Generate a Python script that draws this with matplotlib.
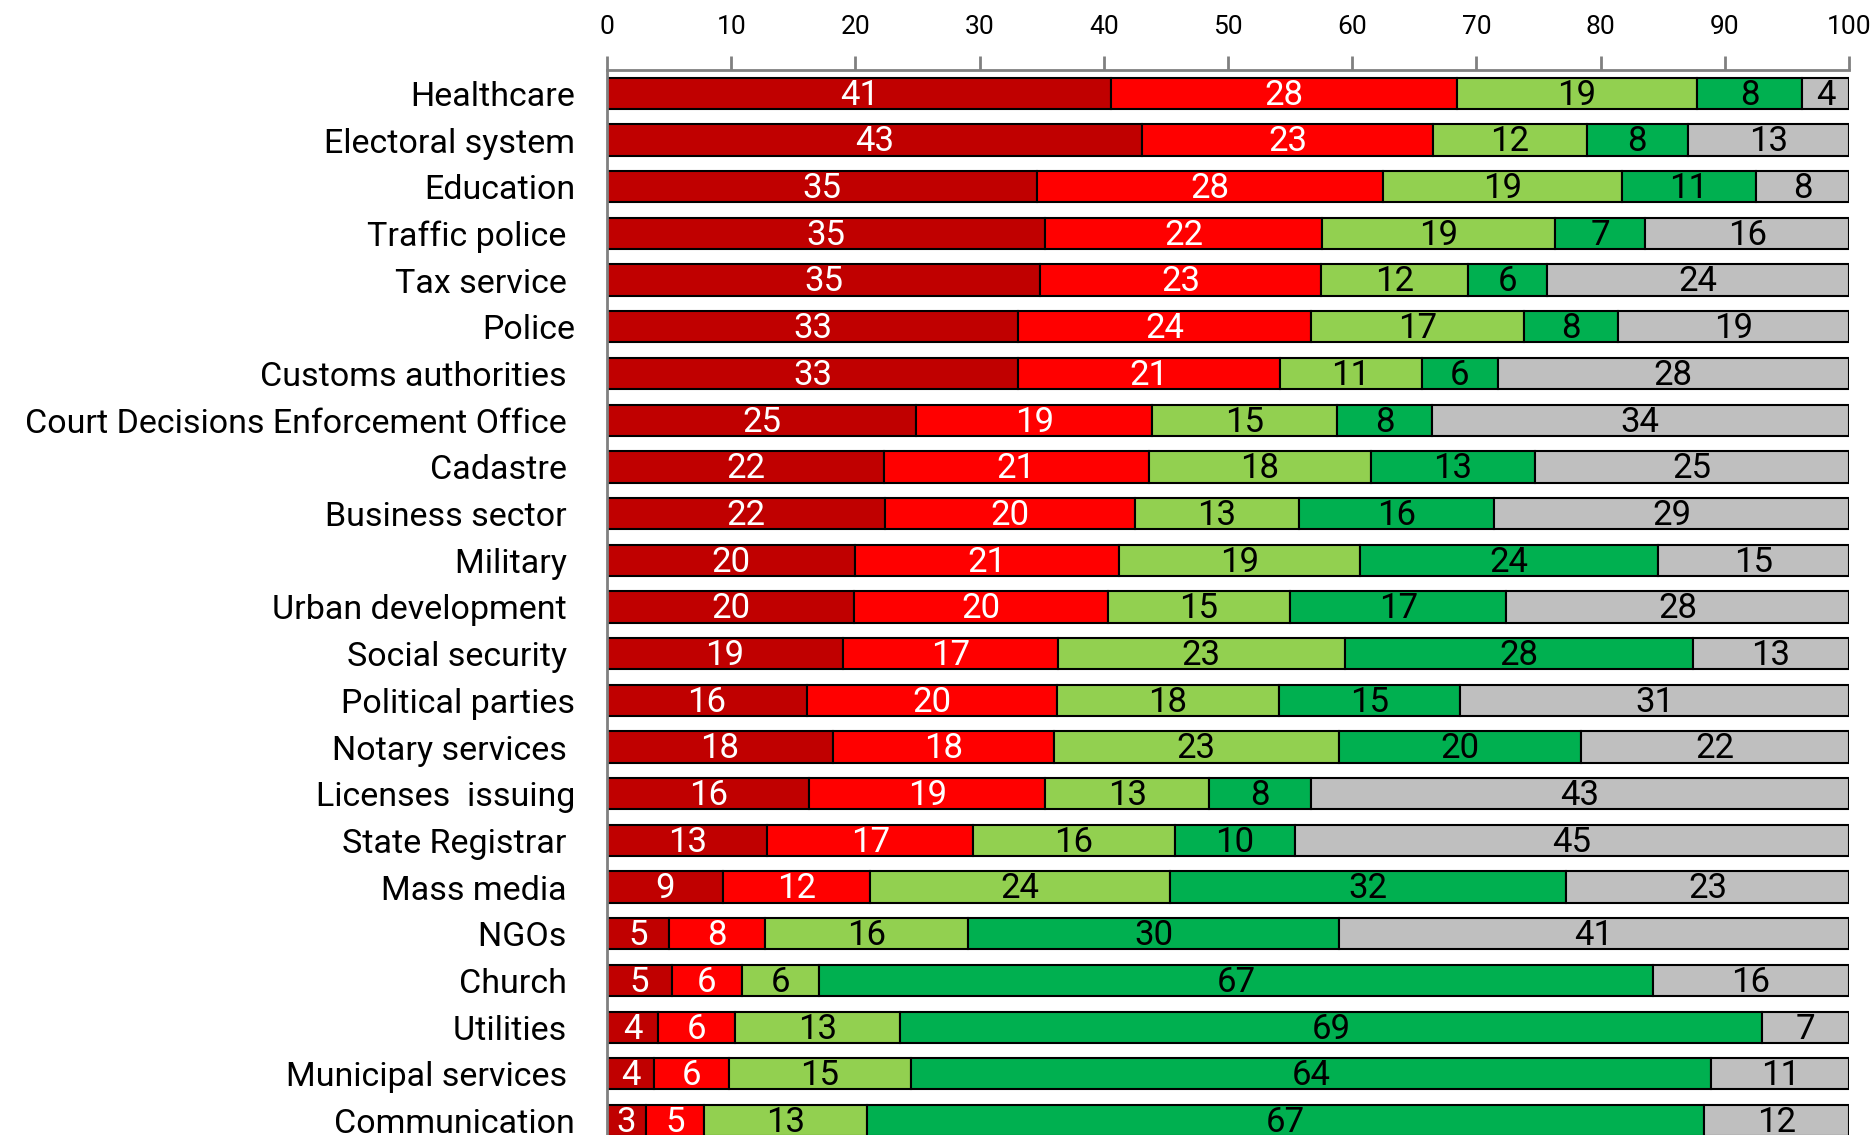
import matplotlib
matplotlib.use("Agg")
import numpy as np
import matplotlib.pyplot as plt

# --- Datos ---
categories = [
    "Healthcare", "Electoral system", "Education", "Traffic police ", "Tax service ",
    "Police", "Customs authorities ", "Court Decisions Enforcement Office ", "Cadastre ",
    "Business sector ", "Military ", "Urban development ", "Social security ",
    "Political parties", "Notary services ", "Licenses  issuing", "State Registrar ",
    "Mass media ", "NGOs ", "Church ", "Utilities ", "Municipal services ", "Communication",
]
very_neg = [40.6, 43.1, 34.6, 35.3, 34.9, 33.1, 33.1, 24.9, 22.3, 22.4, 20.0, 19.9,
            19.0, 16.1, 18.2, 16.3, 12.9, 9.3, 5.0, 5.2, 4.1, 3.8, 3.1]
neg = [27.8, 23.4, 27.9, 22.3, 22.6, 23.6, 21.1, 19.0, 21.3, 20.1, 21.2, 20.4,
       17.3, 20.1, 17.8, 19.0, 16.6, 11.9, 7.7, 5.7, 6.2, 6.0, 4.7]
pos = [19.4, 12.4, 19.2, 18.7, 11.8, 17.1, 11.4, 14.9, 17.9, 13.2, 19.4, 14.7,
       23.1, 17.9, 22.9, 13.2, 16.2, 24.1, 16.4, 6.2, 13.3, 14.7, 13.1]
very_pos = [8.4, 8.1, 10.8, 7.3, 6.4, 7.6, 6.1, 7.6, 13.2, 15.7, 24.0, 17.4,
            28.0, 14.6, 19.5, 8.2, 9.7, 31.9, 29.8, 67.1, 69.4, 64.4, 67.4]
dont_know = [3.8, 13.0, 7.5, 16.4, 24.3, 18.6, 28.3, 33.6, 25.3, 28.6, 15.4, 27.6,
             12.6, 31.3, 21.6, 43.3, 44.6, 22.8, 41.1, 15.8, 7.0, 11.1, 11.7]

series = [very_neg, neg, pos, very_pos, dont_know]
colors = ["#C00000", "#FF0000", "#92D050", "#00B050", "#BFBFBF"]
text_colors = ["white", "white", "black", "black", "black"]

FONT = ["Roboto", "DejaVu Sans"]
plt.rcParams["font.family"] = FONT

# --- Gráfico ---
fig = plt.figure(figsize=(18.72, 11.35), dpi=100)
ax = fig.add_axes([607 / 1872, 0.0, (1849 - 607) / 1872, 1 - 70 / 1135])

y = np.arange(len(categories))
left = np.zeros(len(categories))
for vals, col, tcol in zip(series, colors, text_colors):
    vals = np.array(vals)
    ax.barh(y, vals, left=left, height=0.67, color=col, edgecolor="black", linewidth=1.5)
    for yi, (l, v) in enumerate(zip(left, vals)):
        ax.text(l + v / 2, yi + 0.04, f"{v:.0f}", ha="center", va="center",
                color=tcol, fontsize=25)
    left += vals

ax.set_xlim(0, 100)
ax.set_ylim(22.31, -0.5)
ax.set_yticks(y)
ax.set_yticklabels(categories, fontsize=24.5)
ax.tick_params(axis="y", length=0, pad=23)
ax.xaxis.tick_top()
ax.set_xticks(np.arange(0, 101, 10))
ax.tick_params(axis="x", direction="out", length=10, width=2, color="#808080",
               labelsize=19, pad=12)
for s in ["right", "bottom"]:
    ax.spines[s].set_visible(False)
for s in ["top", "left"]:
    ax.spines[s].set_color("#808080")
    ax.spines[s].set_linewidth(2)

fig.savefig("out.png", dpi=100)
